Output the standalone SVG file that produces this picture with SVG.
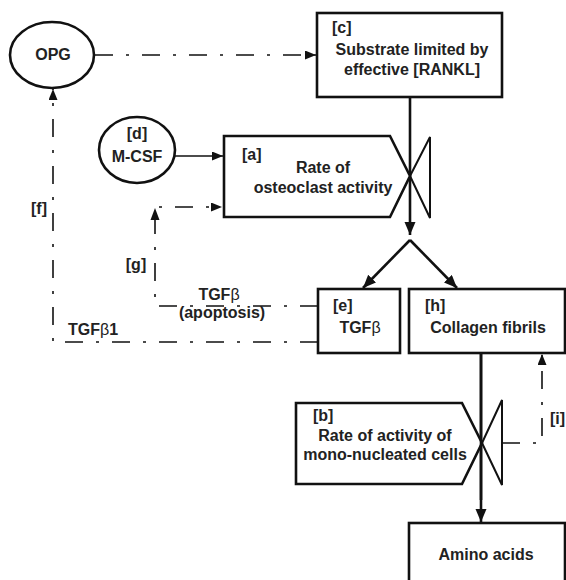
<svg xmlns="http://www.w3.org/2000/svg" width="566" height="580" viewBox="0 0 566 580">
<style>
text{font-family:"Liberation Sans",Arial,sans-serif;font-weight:bold;font-size:16px;fill:#222}
.c{text-anchor:middle}
.box{fill:#fff;stroke:#111;stroke-width:2.6}
.valve{fill:none;stroke:#111;stroke-width:2}
.flow{fill:none;stroke:#111;stroke-width:2.6}
.thin{fill:none;stroke:#111;stroke-width:1.6}
.dd{fill:none;stroke:#111;stroke-width:1.6;stroke-dasharray:18 13 3 13}
.beta{font-weight:normal}
</style>
<defs>
<marker id="ah" markerUnits="userSpaceOnUse" markerWidth="12" markerHeight="10" refX="11" refY="4.5" orient="auto">
<path d="M0,0 L11,4.5 L0,9 z" fill="#111"/>
</marker>
<marker id="ahb" markerUnits="userSpaceOnUse" markerWidth="14" markerHeight="12" refX="13" refY="5.5" orient="auto">
<path d="M0,0 L13,5.5 L0,11 z" fill="#111"/>
</marker>
</defs>
<g id="connectors">
<path class="dd" d="M95,55 L316,55" marker-end="url(#ah)"/>
<path class="thin" d="M175,156 L223,156" marker-end="url(#ah)"/>
<path class="flow" d="M410,97 L410,235" marker-end="url(#ahb)"/>
<path class="flow" d="M410,240 L363,288" marker-end="url(#ahb)"/>
<path class="flow" d="M410,240 L457,288" marker-end="url(#ahb)"/>
<path class="flow" d="M481,353 L481,522" marker-end="url(#ahb)"/>
<path class="dd" d="M318,306 L155,306 L155,207 L222,207" marker-end="url(#ah)"/>
<polygon points="155,208 150.5,220 159.5,220" fill="#111"/>
<path class="dd" d="M318,342 L53,342 L53,89" marker-end="url(#ah)"/>
<path class="dd" d="M502,443 L542,443 L542,354" marker-end="url(#ah)"/>
<text x="39" y="214" class="c">[f]</text>
<text x="136" y="270" class="c">[g]</text>
<text x="93" y="335" class="c">TGF<tspan class="beta">β</tspan>1</text>
<text x="219" y="300" class="c">TGF<tspan class="beta">β</tspan></text>
<text x="222" y="318" class="c">(apoptosis)</text>
<text x="550" y="424">[i]</text>
</g>
<g id="opg">
<ellipse cx="52" cy="55" rx="42" ry="33" class="box"/>
<text x="53" y="60" class="c">OPG</text>
</g>
<g id="d">
<ellipse cx="137" cy="150" rx="38" ry="33" class="box"/>
<text x="137" y="139" class="c">[d]</text>
<text x="137" y="162" class="c">M-CSF</text>
</g>
<g id="c">
<rect x="317" y="13" width="185" height="84" class="box"/>
<text x="332" y="33">[c]</text>
<text x="412" y="55" class="c">Substrate limited by</text>
<text x="412" y="75" class="c">effective [RANKL]</text>
</g>
<g id="a">
<polygon points="224,136 390,136 410,176 390,217 224,217" class="box"/>
<polyline points="410,176 430,137 430,218 410,176" class="valve"/>
<text x="242" y="160">[a]</text>
<text x="323" y="173" class="c">Rate of</text>
<text x="323" y="193" class="c">osteoclast activity</text>
</g>
<g id="e">
<rect x="318" y="289" width="82" height="64" class="box"/>
<text x="333" y="311">[e]</text>
<text x="360" y="333" class="c">TGF<tspan class="beta">β</tspan></text>
</g>
<g id="h">
<rect x="409" y="289" width="156" height="64" class="box"/>
<text x="425" y="311">[h]</text>
<text x="488" y="333" class="c">Collagen fibrils</text>
</g>
<g id="b">
<polygon points="296,403 462,403 482,443 462,484 296,484" class="box"/>
<polyline points="482,443 502,400 502,485 482,443" class="valve"/>
<line x1="481" y1="353" x2="481" y2="500" class="flow"/>
<text x="313" y="421">[b]</text>
<text x="385" y="441" class="c">Rate of activity of</text>
<text x="385" y="460" class="c">mono-nucleated cells</text>
</g>
<g id="amino">
<rect x="409" y="523" width="156" height="70" class="box"/>
<text x="486" y="560" class="c">Amino acids</text>
</g>
</svg>
